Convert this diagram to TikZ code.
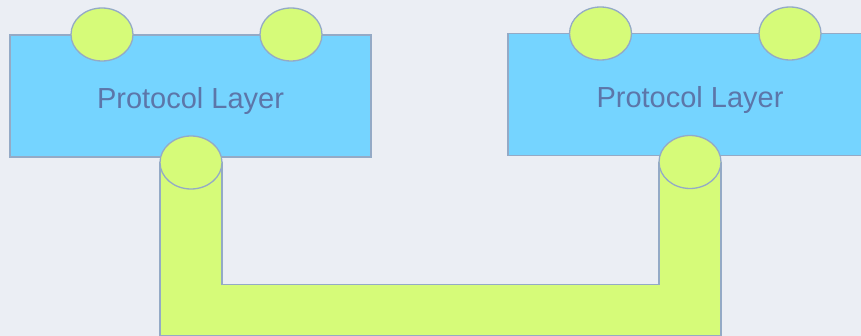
\documentclass[tikz,border=0pt]{standalone}
\usepackage{fontspec}
\setmainfont{Liberation Sans}
\usetikzlibrary{shapes.geometric}
\definecolor{paper}{HTML}{EBEEF4}
\definecolor{layerblue}{HTML}{75D4FF}
\definecolor{rim}{HTML}{94AAC6}
\definecolor{lime}{HTML}{D6FB79}
\definecolor{labelblue}{HTML}{5C76A9}

\tikzset{
  layer/.style={rectangle,fill=layerblue,draw=rim,line width=1.3pt,
    minimum width=361pt,minimum height=122pt,inner sep=0pt,
    text height=32pt,text depth=6pt,
    text=labelblue,font=\fontsize{29}{34}\selectfont},
  port/.style={ellipse,fill=lime,draw=rim,line width=1.3pt,
    minimum width=62pt,minimum height=53pt,inner sep=0pt},
  pipe/.style={fill=lime,draw=rim,line width=1.3pt,line join=miter}
}

\begin{document}
\begin{tikzpicture}[x=1pt,y=-1pt]
\useasboundingbox (0,0) rectangle (861,336);
\clip (0,0) rectangle (861,336);
\fill[paper] (0,0) rectangle (861,336);

\node[layer] (left layer) at (190.5,96) {Protocol Layer};
\node[layer,minimum width=364pt] (right layer) at (690,94.5) {Protocol Layer};

% the link between the two lower ports
\coordinate (left end) at (191,162.5);
\coordinate (right end) at (690,162);
\filldraw[pipe] (left end) ++(-31,0) -- ++(0,173) -- ++(561,0) -- ++(0,-173)
  -- ++(-62,0) -- ++(0,122) -- ++(-437,0) -- ++(0,-122) -- cycle;

\node[port] (left a) at (102,34.5) {};
\node[port] (left b) at (291,34.5) {};
\node[port] (right a) at (600.5,33.5) {};
\node[port] (right b) at (790,33.5) {};
\node[port] (left low) at (left end) {};
\node[port] (right low) at (right end) {};
\end{tikzpicture}
\end{document}
